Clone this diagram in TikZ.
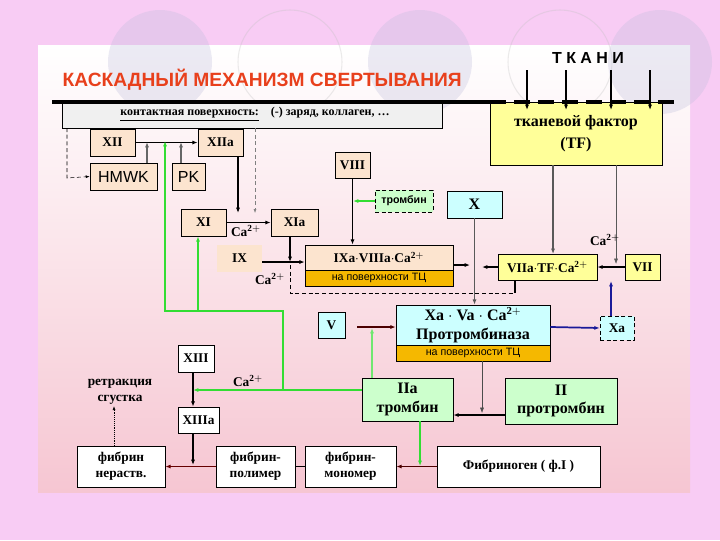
\documentclass[tikz,border=0pt]{standalone}
\usepackage{fontspec}
\setmainfont{Liberation Serif}
\setsansfont{Liberation Sans}
\usetikzlibrary{arrows.meta}
\definecolor{bgpink}{HTML}{F8CCF4}
\definecolor{panbot}{HTML}{F6C6D2}
\definecolor{peach}{HTML}{FCE4CF}
\definecolor{ylw}{HTML}{FFFF99}
\definecolor{cyanb}{HTML}{CCFFFF}
\definecolor{grn}{HTML}{CCFFCC}
\definecolor{orng}{HTML}{F5B800}
\definecolor{lgreen}{HTML}{33DD33}
\definecolor{dblue}{HTML}{1A1A99}
\definecolor{titlered}{HTML}{E8401C}
\newcommand\px[1]{#1*0.75pt}
\tikzset{
  box/.style={draw, fill=#1, inner sep=0pt, align=center, font=\bfseries},
  box/.default=peach,
  sz/.style 2 args={minimum width=\px{#1}, minimum height=\px{#2}},
  arr/.style={-{Latex[length=4pt,width=3pt]}, thick},
  garr/.style={arr, lgreen, line width=1.1pt},
  lbl/.style={font=\bfseries, inner sep=1pt},
}
\begin{document}
\begin{tikzpicture}[x=0.75pt, y=-0.75pt]
\useasboundingbox (0,0) rectangle (720,540);
\fill[bgpink] (0,0) rectangle (720,540);
\shade[top color=white, bottom color=panbot] (38,45) rectangle (690,492);
% decorative circles
\begin{scope}[opacity=0.3]
\fill[gray!70!blue!40] (160,62) circle (52);
\draw[gray!50, thick] (290,62) circle (52);
\fill[gray!70!blue!40] (420,62) circle (52);
\draw[gray!50, thick] (560,62) circle (52);
\fill[gray!70!blue!40] (660,62) circle (52);
\end{scope}
\node[font=\sffamily\bfseries\Large, text=titlered, anchor=west] (title) at (58,80) {КАСКАДНЫЙ МЕХАНИЗМ СВЕРТЫВАНИЯ};
\node[font=\sffamily\bfseries\large] (tk) at (588,58) {Т К А Н И};
% contact surface and tissue factor
\node[draw, fill=gray!12, sz={380}{26}, inner sep=0pt] (cont) at (252,115) {};
\node[font=\bfseries\small] (conttxt) at (255,114) {\underline{контактная поверхность:}\quad (-) заряд, коллаген, \dots};
\node[box=ylw, sz={172}{63}, font=\bfseries\large] (tf) at (576,133.5) {тканевой фактор\\[3pt](TF)};
\draw[line width=3pt] (52,102) -- (490,102);
\draw[line width=3pt, dash pattern=on 12pt off 6pt] (490,102) -- (680,102);
\foreach \xx [count=\i] in {527,566,611,650}
  \coordinate (t\i) at (\xx,70);
\foreach \i in {1,...,4}
  \draw[arr, line width=1.3pt] (t\i) -- (t\i |- 0,110);
% contact phase
\node[box, sz={45}{27}] (xii) at (112.5,142.5) {XII};
\node[box, sz={45}{27}] (xiia) at (220.5,142.5) {XIIa};
\node[box, sz={67}{27}, font=\sffamily\large] (hmwk) at (123.5,176.5) {HMWK};
\node[box, sz={33}{27}, font=\sffamily\large] (pk) at (188.5,176.5) {PK};
\draw[arr] (xii) -- (xiia);
\draw[arr, gray!80!black] (147,163) -- (147,142);
\draw[arr, gray!80!black] (181,163) -- (181,142);
\coordinate (d1) at (67,128);
\draw[densely dashed, -{Latex[length=3pt]}] (d1) -- (67,178) -- (hmwk.west);
\node[box, sz={45}{27}] (xi) at (203.5,222.5) {XI};
\node[box, sz={47}{27}] (xia) at (294.5,222.5) {XIa};
\draw[arr] (xi) -- (xia);
\draw[arr] (xiia.south -| 238,0) -- (238,213);
\draw[densely dashed, gray, -{Latex[length=3pt]}] (255,128) -- (255,213);
\node[lbl] (ca1) at (246,231) {Ca$^{\mathbf{2+}}$};
% tenase
\node[box, sz={45}{27}, draw=none] (ix) at (239.5,258.5) {IX};
\node[box, sz={148}{25}] (ixa) at (379,257.5) {IXa$\cdot$VIIIa$\cdot$Ca$^{\mathbf{2+}}$};
\node[box=orng, sz={148}{16}, font=\sffamily\footnotesize] (ixs) at (379,278) {на поверхности ТЦ};
\draw[arr] (ix.east |- 0,262) -- (ixa.west |- 0,262);
\draw[arr] (xia.south -| 290,0) -- (290,262);
\draw[densely dashed] (290,265) -- (290,293) -- (515,293);
\node[lbl] (ca2) at (270,279) {Ca$^{\mathbf{2+}}$};
\node[box, sz={35}{26}] (viii) at (352.5,165) {VIII};
\draw[arr] (viii) -- (viii |- ixa.north);
\node[box=grn, sz={58}{22}, draw, densely dashed, font=\sffamily\bfseries\footnotesize] (thr) at (404,201) {тромбин};
\draw[garr] (thr.west) -- (353,201);
\node[box=cyanb, sz={55}{27}, font=\bfseries\large] (x) at (474.5,204.5) {X};
% extrinsic
\node[box=ylw, sz={99}{26}] (viia) at (547.5,267) {VIIa$\cdot$TF$\cdot$Ca$^{\mathbf{2+}}$};
\node[box=ylw, sz={35}{26}] (vii) at (642.5,267) {VII};
\draw[arr] (vii) -- (viia);
\draw[arr, gray!70!black] (tf.south -| 553,0) -- (553,254);
\draw[gray!70!black, -{Latex[length=4pt]}] (tf.south -| 616,0) -- (616,264);
\node[lbl] (ca3) at (605,240) {Ca$^{\mathbf{2+}}$};
\draw[arr] (ixa.east |- 0,265) -- (470,265);
\draw[arr] (viia.west) -- (482,267);
\draw[thick] (515,281) -- (515,293);
% prothrombinase
\node[box=cyanb, sz={154}{40}, font=\bfseries\large] (xac) at (473,325) {Xa $\cdot$ Va $\cdot$ Ca$^{\mathbf{2+}}$\\Протромбиназа};
\node[box=orng, sz={154}{16}, font=\sffamily\footnotesize] (xas) at (473,353) {на поверхности ТЦ};
\draw[arr, gray!70!black] (x) -- (x |- xac.north);
\node[box=cyanb, sz={27}{26}] (v) at (331.5,325) {V};
\draw[arr, black!70!red] (357,327) -- (xac.west |- 0,327);
\node[box=cyanb, sz={34}{24}, densely dashed] (xad) at (617,328) {Xa};
\draw[arr, dblue, line width=1.3pt] (xac.east |- 0,327) -- (xad.west);
\draw[arr, dblue] (xad.north -| 611,0) -- (611,281);
% thrombin
\node[box=grn, sz={91}{43}, font=\bfseries\large] (iia) at (407.5,399.5) {IIa\\тромбин};
\node[box=grn, sz={112}{46}, font=\bfseries\large] (ii) at (561,401) {II\\протромбин};
\draw[arr] (ii.west |- 0,415) -- (iia.east |- 0,415);
\draw[gray!60!black, -{Latex[length=4pt]}] (xas.south -| 482,0) -- (482,413);
\draw[garr, line width=0.8pt, lgreen!70] (iia.north -| 372,0) -- (372,328);
\node[box=white, sz={36}{27}] (xiii) at (196,358.5) {XIII};
\node[box=white, sz={41}{26}] (xiiia) at (198.5,420) {XIIIa};
\draw[arr] (xiii.south -| 193,0) -- (xiiia.north -| 193,0);
\draw[garr] (iia.west |- 0,390) -- (193,390);
\node[lbl] (ca4) at (248,381) {Ca$^{\mathbf{2+}}$};
\draw[garr] (283,390) -- (283,311) -- (165,311) -- (165,141);
\draw[garr] (198,311) -- (xi.south -| 198,0);
% fibrin
\node[lbl, align=center] (retr) at (120,392) {ретракция\\сгустка};
\node[box=white, sz={88}{41}] (fibn) at (121,466.5) {фибрин\\нераств.};
\node[box=white, sz={79}{41}] (poly) at (255.5,466.5) {фибрин-\\полимер};
\node[box=white, sz={91}{41}] (mono) at (350.5,466.5) {фибрин-\\мономер};
\node[box=white, sz={163}{41}] (fibg) at (518.5,466.5) {Фибриноген ( ф.I )};
\draw[densely dotted, -{Latex[length=3pt]}] (fibn.north -| 114,0) -- (retr.south -| 114,0);
\draw[arr, black!60!red] (poly.west) -- (fibn.east);
\draw[arr] (xiiia.south -| 193,0) -- (193,465);
\draw (poly) -- (mono);
\draw[arr, black!70!red] (fibg.west) -- (mono.east);
\draw[garr] (iia.south -| 420,0) -- (420,466);
\end{tikzpicture}
\end{document}
